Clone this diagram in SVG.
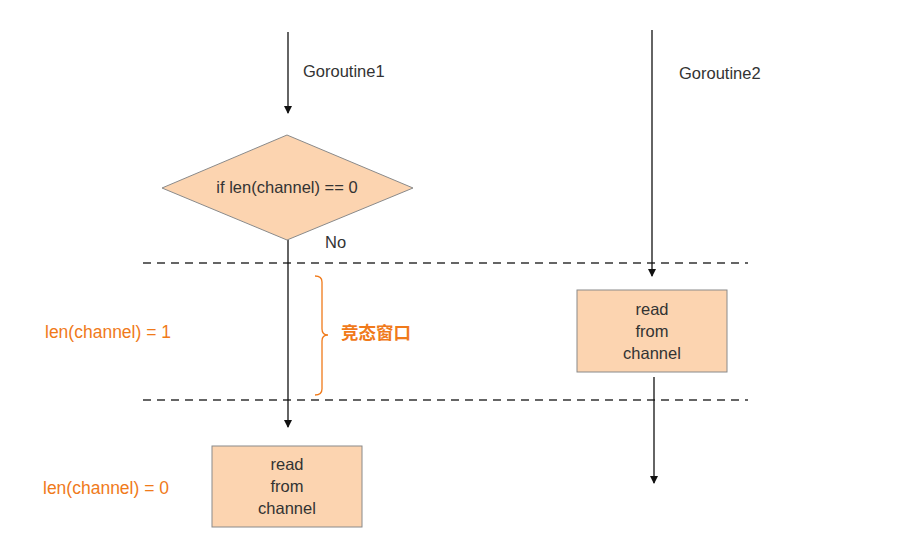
<svg xmlns="http://www.w3.org/2000/svg" width="914" height="560" viewBox="0 0 914 560">
<defs>
<marker id="ah" markerWidth="8" markerHeight="8" refX="7" refY="4" orient="auto" markerUnits="userSpaceOnUse" viewBox="0 0 8 8">
<path d="M0,0 L8,4 L0,8 Z" fill="#111"/>
</marker>
</defs>
<style>
.t{font-family:"Liberation Sans",Arial,sans-serif;font-size:16.5px;fill:#333}
.o{font-family:"Liberation Sans","Noto Sans CJK SC",sans-serif;font-size:17.5px;fill:#F07A1A}
.node{fill:#FCD4B0;stroke:#8a8a8a;stroke-width:1}
.ln{stroke:#111;stroke-width:1.3;fill:none}
.dash{stroke:#333;stroke-width:1.3;stroke-dasharray:8,6;fill:none}
</style>
<rect width="914" height="560" fill="#fff"/>
<g id="guides">
<line class="dash" x1="143" y1="263" x2="748" y2="263"/>
<line class="dash" x1="143" y1="400" x2="748" y2="400"/>
</g>
<g id="connectors">
<line class="ln" x1="288" y1="32" x2="288" y2="113" marker-end="url(#ah)"/>
<line class="ln" x1="288" y1="240" x2="288" y2="427" marker-end="url(#ah)"/>
<line class="ln" x1="652" y1="30" x2="652" y2="276" marker-end="url(#ah)"/>
<line class="ln" x1="654" y1="377" x2="654" y2="483" marker-end="url(#ah)"/>
</g>
<g id="decision">
<polygon class="node" points="287,135 413,188 287,240 162,188"/>
<text class="t" x="287" y="193" text-anchor="middle">if len(channel) == 0</text>
</g>
<g id="label-no"><text class="t" x="325" y="248">No</text></g>
<g id="label-g1"><text class="t" x="303" y="77">Goroutine1</text></g>
<g id="label-g2"><text class="t" x="679" y="79">Goroutine2</text></g>
<g id="read2">
<rect class="node" x="577" y="290" width="150" height="82"/>
<text class="t" x="652" y="315" text-anchor="middle">read</text>
<text class="t" x="652" y="337" text-anchor="middle">from</text>
<text class="t" x="652" y="359" text-anchor="middle">channel</text>
</g>
<g id="read1">
<rect class="node" x="212" y="446" width="150" height="81"/>
<text class="t" x="287" y="470" text-anchor="middle">read</text>
<text class="t" x="287" y="492" text-anchor="middle">from</text>
<text class="t" x="287" y="514" text-anchor="middle">channel</text>
</g>
<g id="race-window">
<path d="M315,276 Q322,276 322,282 L322,329 Q322,335 328,335 Q322,335 322,341 L322,389 Q322,395 315,395" fill="none" stroke="#F07A1A" stroke-width="1.3"/>
<text class="o" x="341" y="339" font-weight="bold" font-size="16.5">竞态窗口</text>
</g>
<g id="state1"><text class="o" x="45" y="338">len(channel) = 1</text></g>
<g id="state0"><text class="o" x="43" y="494">len(channel) = 0</text></g>
</svg>
